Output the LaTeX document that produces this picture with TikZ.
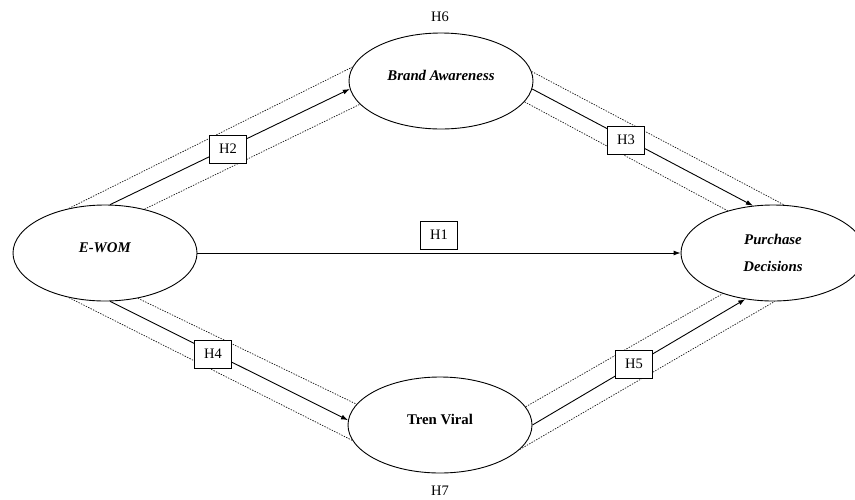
\documentclass[tikz,border=0pt]{standalone}
\usepackage{fontspec}
\setmainfont{Liberation Serif}
\usetikzlibrary{arrows.meta,shapes.geometric}
\begin{document}
\begin{tikzpicture}[x=1pt,y=-1pt,
 var/.style={ellipse,draw,line width=0.9pt,minimum width=184pt,minimum height=96pt,inner sep=0pt,font=\fontsize{14.8}{17}\selectfont},
 raised/.style={text height=10pt,text depth=12pt},
 hyp/.style={draw,fill=white,line width=0.9pt,minimum width=37pt,minimum height=28pt,inner sep=0pt,font=\fontsize{14.5}{17}\selectfont},
 plain/.style={font=\fontsize{14.5}{17}\selectfont,inner sep=0pt},
 hyarrow/.style={line width=0.9pt,-{Latex[length=7pt,width=5pt]}},
 band/.style={line width=0.7pt,dash pattern=on 1.4pt off 1.3pt,black!90}]
\useasboundingbox (0,0) rectangle (855,499);
\clip (0,0) rectangle (855,499);

\node[var,raised] (ewom) at (105,253) {\textbf{\textit{E-WOM}}};
\node[var,raised] (brand) at (441,81) {\textbf{\textit{Brand Awareness}}};
\node[var,align=center] (purch) at (773,253) {\textbf{\textit{Purchase}}\\[10pt]\textbf{\textit{Decisions}}};
\node[var,raised] (tren) at (440,425) {\textbf{Tren Viral}};
\node[plain] (h6) at (440,17) {H6};
\node[plain] (h7) at (440,491) {H7};

% dotted bands
\draw[band] (ewom.129.6) -- (brand.171.9);
\draw[band] (ewom.48.4) -- (brand.196.8);
\draw[band] (brand.6.3) -- (purch.77.3);
\draw[band] (brand.-14.7) -- (purch.137.5);
\draw[band] (ewom.231.5) -- (tren.190.7);
\draw[band] (ewom.306.3) -- (tren.166.9);
\draw[band] (tren.12.3) -- (purch.219.5);
\draw[band] (tren.-17.4) -- (purch.272.4);

% paths
\draw[hyarrow] (ewom.east) -- (purch.west);
\draw[hyarrow] (ewom.84) -- (brand.185);
\draw[hyarrow] (brand.-5.6) -- (purch.113.2);
\draw[hyarrow] (ewom.276) -- (tren.177);
\draw[hyarrow] (tren.0) -- (purch.239);

% hypothesis boxes
\node[hyp] (h1) at (439,235) {H1};
\node[hyp] (h2) at (228,149) {H2};
\node[hyp] (h3) at (626,140) {H3};
\node[hyp] (h4) at (213,354) {H4};
\node[hyp] (h5) at (634,364) {H5};
\end{tikzpicture}
\end{document}
